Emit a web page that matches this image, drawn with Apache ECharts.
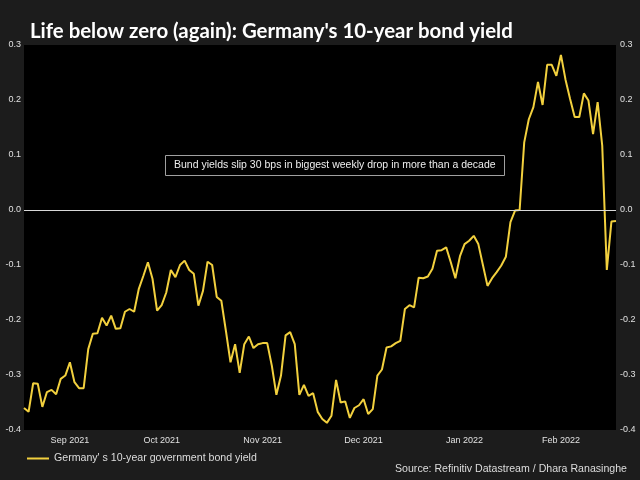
<!DOCTYPE html>
<html>
<head>
<meta charset="utf-8">
<script src="https://cdn.jsdelivr.net/npm/echarts@6/dist/echarts.min.js"></script>
<style>
html,body{margin:0;padding:0;background:#1c1c1c;}
#chart{width:640px;height:480px;}
</style>
</head>
<body>
<div id="chart"></div>
<script>
// Daily observations (index of trading day)
const yieldValues = [
  -0.360, -0.367, -0.315, -0.316, -0.358, -0.331, -0.327, -0.335, -0.307, -0.301,
  -0.277, -0.313, -0.324, -0.324, -0.253, -0.225, -0.224, -0.196, -0.210, -0.192,
  -0.216, -0.215, -0.185, -0.180, -0.185, -0.144, -0.120, -0.095, -0.125, -0.183,
  -0.173, -0.150, -0.109, -0.122, -0.100, -0.092, -0.109, -0.116, -0.174, -0.147,
  -0.094, -0.100, -0.158, -0.165, -0.220, -0.277, -0.244, -0.296, -0.244, -0.230,
  -0.251, -0.244, -0.242, -0.242, -0.283, -0.336, -0.301, -0.228, -0.222, -0.244,
  -0.336, -0.318, -0.338, -0.333, -0.367, -0.380, -0.387, -0.374, -0.309, -0.350,
  -0.348, -0.378, -0.360, -0.355, -0.344, -0.371, -0.362, -0.301, -0.290, -0.250,
  -0.248, -0.242, -0.238, -0.180, -0.173, -0.177, -0.123, -0.124, -0.121, -0.107,
  -0.074, -0.073, -0.068, -0.095, -0.124, -0.084, -0.062, -0.056, -0.047, -0.062,
  -0.100, -0.138, -0.124, -0.113, -0.101, -0.085, -0.022, -0.001, 0.000, 0.123,
  0.165, 0.187, 0.233, 0.191, 0.264, 0.264, 0.244, 0.282, 0.237, 0.202,
  0.169, 0.169, 0.212, 0.199, 0.138, 0.196, 0.117, -0.109, -0.021, -0.020
];
const dayIndex = yieldValues.map((_, i) => String(i));
const monthLabels = ['Sep 2021', 'Oct 2021', 'Nov 2021', 'Dec 2021', 'Jan 2022', 'Feb 2022'];
const monthLabelIndex = [10, 30, 52, 74, 96, 117];
const seriesName = "Germany' s 10-year government bond yield";
const titleText = "Life below zero (again): Germany's 10-year bond yield";
const noteText = 'Bund yields slip 30 bps in biggest weekly drop in more than a decade';
const sourceText = 'Source: Refinitiv Datastream / Dhara Ranasinghe';

const SANS = '"Liberation Sans", Arial, sans-serif';
const chart = echarts.init(document.getElementById('chart'), null, {renderer: 'canvas'});

const yAxisCommon = {
  type: 'value', min: -0.4, max: 0.3, interval: 0.1,
  splitLine: {show: false}, axisLine: {show: false}, axisTick: {show: false},
  axisLabel: {color: '#e0e0e0', fontSize: 9, fontFamily: SANS,
    formatter: v => v.toFixed(1)}
};

chart.setOption({
  backgroundColor: '#1c1c1c',
  animation: false,
  title: [
    {text: titleText, left: 30, top: 21, padding: 0,
     textStyle: {color: '#ffffff', fontFamily: 'Lato', fontWeight: 'bold', fontSize: 20.4}},
    {text: noteText, left: 165, top: 155, padding: [5, 9], borderColor: '#a0a0a0', borderWidth: 1,
     textStyle: {color: '#eeeeee', fontFamily: SANS, fontWeight: 'normal', fontSize: 10.5}},
    {text: sourceText, right: 13, top: 464, padding: 0,
     textStyle: {color: '#dddddd', fontFamily: SANS, fontWeight: 'normal', fontSize: 10.6}}
  ],
  legend: {
    left: 22, top: 448, icon: 'rect', itemWidth: 22, itemHeight: 2, itemGap: 6,
    textStyle: {color: '#dddddd', fontFamily: SANS, fontSize: 10.6},
    data: [seriesName]
  },
  grid: {left: 24, right: 24, top: 45, bottom: 50, show: true, backgroundColor: '#000000', borderWidth: 0},
  xAxis: {
    type: 'category', boundaryGap: false, data: dayIndex,
    axisLine: {show: false}, axisTick: {show: false},
    axisLabel: {
      color: '#e0e0e0', fontSize: 9, fontFamily: SANS, margin: 6,
      interval: (i) => monthLabelIndex.includes(i),
      formatter: (v, i) => monthLabels[monthLabelIndex.indexOf(i)] || ''
    }
  },
  yAxis: [
    Object.assign({}, yAxisCommon, {position: 'left', axisLabel: Object.assign({}, yAxisCommon.axisLabel, {margin: 3})}),
    Object.assign({}, yAxisCommon, {position: 'right', axisLabel: Object.assign({}, yAxisCommon.axisLabel, {margin: 4})})
  ],
  series: [{
    name: seriesName, type: 'line', data: yieldValues, yAxisIndex: 0,
    symbol: 'none', lineStyle: {color: '#f2d03e', width: 2}, itemStyle: {color: '#f2d03e'},
    markLine: {
      silent: true, symbol: 'none', label: {show: false},
      lineStyle: {color: '#d8d8d8', width: 1, type: 'solid'},
      data: [{yAxis: 0}]
    }
  }]
});
</script>
</body>
</html>
